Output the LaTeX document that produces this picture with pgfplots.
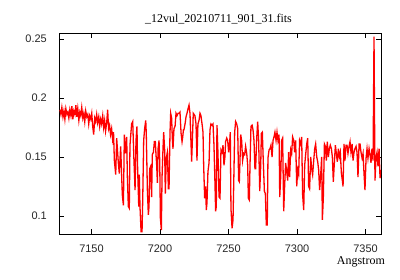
\documentclass[border=0pt]{standalone}
\usepackage{fontspec}
\setmainfont{Liberation Serif}
\newfontfamily\ticksans{Liberation Sans}
\usepackage{pgfplots}
\pgfplotsset{compat=1.18}
\begin{document}
\begin{tikzpicture}
\path (-59bp,-46bp) rectangle (341bp,234bp);
\begin{axis}[
  name=ax,
  at={(0,0)}, anchor=origin,
  scale only axis,
  width=322bp, height=201bp,
  xmin=7126.3, xmax=7361.3,
  ymin=0.0847, ymax=0.2551,
  xtick={7150,7200,7250,7300,7350},
  ytick={0.1,0.15,0.2,0.25},
  yticklabels={0.1,0.15,0.2,0.25},
  /pgf/number format/1000 sep={},
  /pgf/number format/assume math mode=true,
  tick label style={font=\ticksans\fontsize{11}{12}\selectfont, text=black!85},
  xticklabel style={anchor=base, inner sep=0pt, yshift=-18bp},
  yticklabel style={anchor=east, inner sep=0pt, xshift=-12bp, yshift=0bp},
  major tick length=5bp,
  tick style={black, line width=0.8bp},
  axis line style={black, line width=0.9bp},
  tick align=inside,
  clip=true,
]
\addplot[red, line width=1.3bp, mark=none] table {
x y
7127.0 0.190
7127.7 0.186
7128.4 0.192
7129.2 0.184
7129.9 0.189
7130.6 0.182
7131.3 0.191
7132.1 0.186
7132.8 0.188
7133.5 0.183
7134.2 0.190
7135.0 0.185
7135.7 0.193
7136.4 0.182
7137.1 0.189
7137.9 0.186
7138.6 0.194
7139.3 0.184
7140.0 0.191
7140.8 0.181
7141.5 0.188
7142.2 0.185
7142.9 0.192
7143.7 0.183
7144.4 0.187
7145.1 0.180
7145.8 0.189
7146.6 0.184
7147.3 0.186
7148.0 0.178
7148.7 0.185
7149.5 0.182
7150.2 0.187
7150.9 0.176
7151.6 0.169
7152.4 0.183
7153.1 0.180
7153.8 0.186
7154.5 0.179
7155.3 0.184
7156.0 0.176
7156.7 0.182
7157.4 0.178
7158.2 0.185
7158.9 0.175
7159.6 0.181
7160.3 0.172
7161.1 0.179
7161.8 0.190
7162.5 0.174
7163.2 0.177
7163.9 0.169
7164.7 0.174
7165.4 0.165
7166.1 0.171
7166.7 0.147
7167.7 0.135
7168.4 0.166
7169.6 0.145
7170.3 0.136
7171.3 0.159
7172.5 0.118
7173.3 0.109
7174.0 0.169
7175.0 0.153
7175.7 0.167
7176.2 0.133
7176.9 0.108
7177.6 0.1065
7178.1 0.160
7179.3 0.178
7180.1 0.180
7181.0 0.147
7181.8 0.122
7182.5 0.164
7183.2 0.176
7183.7 0.139
7184.5 0.108
7184.9 0.135
7185.4 0.108
7186.2 0.0867
7186.9 0.0867
7187.4 0.1135
7188.1 0.164
7188.8 0.174
7189.6 0.181
7190.0 0.170
7190.8 0.122
7191.5 0.101
7192.0 0.108
7192.5 0.140
7193.2 0.142
7193.9 0.116
7194.4 0.152
7195.2 0.154
7195.9 0.163
7196.6 0.163
7197.1 0.152
7197.6 0.143
7198.1 0.128
7198.6 0.157
7199.3 0.164
7199.8 0.147
7200.3 0.098
7201.0 0.088
7201.5 0.133
7202.2 0.157
7202.7 0.171
7203.4 0.156
7203.9 0.119
7204.6 0.149
7205.4 0.154
7206.1 0.123
7206.6 0.123
7207.3 0.170
7207.8 0.187
7208.5 0.183
7209.0 0.166
7209.5 0.157
7210.2 0.174
7211.0 0.176
7211.7 0.187
7212.4 0.185
7213.2 0.187
7213.9 0.187
7214.6 0.188
7215.4 0.170
7216.1 0.163
7216.6 0.167
7217.1 0.173
7217.5 0.173
7218.3 0.178
7219.0 0.184
7219.7 0.187
7220.5 0.191
7221.2 0.194
7221.9 0.187
7223.1 0.146
7224.3 0.187
7225.5 0.185
7226.3 0.178
7227.0 0.147
7227.7 0.178
7228.5 0.181
7229.2 0.187
7229.9 0.185
7230.7 0.178
7231.4 0.171
7231.9 0.142
7232.6 0.115
7233.3 0.125
7233.8 0.105
7234.3 0.111
7235.0 0.1375
7235.8 0.145
7236.5 0.173
7237.2 0.178
7238.0 0.177
7238.7 0.178
7239.4 0.160
7240.1 0.129
7240.6 0.104
7241.1 0.108
7241.6 0.177
7242.3 0.154
7243.1 0.116
7243.8 0.115
7244.5 0.156
7245.3 0.154
7246.0 0.160
7246.7 0.143
7247.4 0.150
7247.9 0.163
7248.7 0.166
7249.4 0.164
7250.1 0.154
7250.9 0.163
7251.3 0.171
7251.8 0.1065
7252.6 0.0896
7253.3 0.0966
7253.8 0.126
7254.5 0.171
7255.2 0.180
7256.0 0.178
7256.7 0.174
7257.4 0.130
7257.9 0.129
7258.4 0.147
7258.9 0.169
7259.6 0.164
7260.3 0.147
7261.1 0.153
7261.8 0.152
7262.5 0.159
7263.3 0.153
7264.0 0.143
7264.5 0.115
7265.2 0.1135
7265.7 0.143
7266.4 0.176
7267.2 0.177
7267.9 0.173
7268.6 0.164
7269.3 0.140
7269.8 0.140
7270.6 0.166
7271.3 0.180
7272.0 0.164
7272.8 0.121
7273.5 0.142
7274.0 0.170
7274.7 0.171
7275.4 0.146
7276.2 0.121
7276.9 0.119
7277.6 0.0924
7278.3 0.0924
7278.8 0.149
7279.6 0.156
7280.3 0.157
7281.0 0.160
7281.8 0.150
7282.5 0.164
7283.2 0.167
7283.9 0.171
7284.7 0.164
7285.4 0.171
7286.1 0.164
7286.9 0.169
7287.4 0.116
7288.1 0.133
7288.8 0.164
7289.5 0.166
7290.3 0.104
7291.0 0.126
7291.7 0.145
7292.5 0.1375
7293.2 0.130
7293.9 0.154
7294.6 0.133
7295.4 0.156
7296.1 0.153
7296.8 0.167
7297.6 0.164
7298.3 0.154
7299.0 0.164
7299.8 0.125
7300.5 0.139
7301.2 0.135
7301.9 0.164
7302.7 0.161
7303.4 0.167
7304.1 0.118
7304.9 0.105
7305.6 0.143
7306.3 0.152
7307.1 0.161
7307.8 0.166
7308.5 0.125
7309.2 0.123
7310.0 0.150
7310.7 0.140
7311.4 0.135
7312.2 0.147
7312.9 0.157
7313.6 0.161
7314.4 0.150
7315.1 0.146
7315.8 0.139
7316.5 0.122
7317.3 0.135
7318.0 0.150
7318.5 0.0966
7319.2 0.115
7320.0 0.161
7320.7 0.159
7321.4 0.147
7322.1 0.163
7322.9 0.150
7323.6 0.157
7324.3 0.160
7325.1 0.157
7325.8 0.150
7326.5 0.129
7327.3 0.146
7328.0 0.160
7328.7 0.153
7329.4 0.146
7330.2 0.157
7330.9 0.150
7331.6 0.154
7332.4 0.136
7333.1 0.130
7333.6 0.125
7334.3 0.161
7335.0 0.147
7335.8 0.160
7336.5 0.160
7337.2 0.153
7338.0 0.159
7338.7 0.163
7339.4 0.154
7340.2 0.161
7340.9 0.147
7341.6 0.154
7342.3 0.157
7343.1 0.159
7343.8 0.154
7344.5 0.133
7345.3 0.161
7346.0 0.161
7346.7 0.154
7347.5 0.149
7348.2 0.153
7348.9 0.136
7349.6 0.122
7350.4 0.149
7351.1 0.157
7351.8 0.149
7352.6 0.157
7353.3 0.152
7354.0 0.145
7354.7 0.157
7355.5 0.147
7356.2 0.252
7356.9 0.130
7357.7 0.150
7358.4 0.154
7359.1 0.142
7359.9 0.157
7360.6 0.132
7361.1 0.139
};
\end{axis}
\node[font=\fontsize{12}{13}\selectfont, anchor=base, inner sep=0pt] at (159.5bp,211bp) {\_12vul\_20210711\_901\_31.fits};
\node[font=\fontsize{12}{13}\selectfont, anchor=base east, inner sep=0pt] at (326bp,-30bp) {Angstrom};
\end{tikzpicture}
\end{document}
